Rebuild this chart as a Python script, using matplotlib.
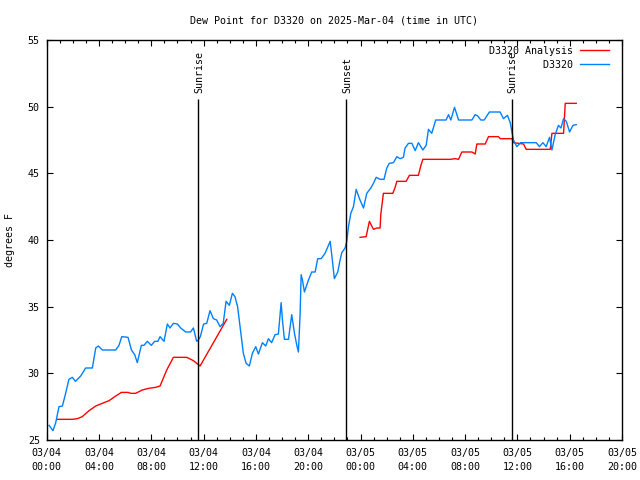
import numpy as np
import matplotlib
matplotlib.use("Agg")
import matplotlib.pyplot as plt
import matplotlib.dates as mdates
from datetime import datetime, timedelta

plt.rcParams["font.family"] = ["DejaVu Sans Mono"]
plt.rcParams["font.size"] = 7.2

# hours since 2025-03-04 00:00 UTC
obs_hours = [0.18, 0.48, 0.69, 0.94, 1.2, 1.45, 1.7, 1.96, 2.2, 2.6, 2.98, 3.49, 3.75, 3.95,
             4.26, 5.28, 5.53, 5.74, 6.22, 6.48, 6.73, 6.93, 7.24, 7.44, 7.7, 8.0, 8.26, 8.5,
             8.67, 8.97, 9.23, 9.43, 9.69, 10.0, 10.25, 10.63, 11.0, 11.22, 11.47, 11.6, 11.75,
             12.0, 12.24, 12.49, 12.75, 13.0, 13.26, 13.5, 13.72, 13.97, 14.2, 14.4, 14.6,
             14.79, 14.92, 15.04, 15.25, 15.5, 15.73, 15.99, 16.19, 16.5, 16.75, 16.96, 17.2,
             17.47, 17.72, 17.93, 18.03, 18.18, 18.49, 18.74, 18.95, 19.13, 19.25, 19.38,
             19.46, 19.56, 19.71, 20.02, 20.27, 20.53, 20.73, 20.99, 21.29, 21.68, 21.8, 22.0,
             22.26, 22.44, 22.57, 22.82, 22.95, 23.08, 23.26, 23.46, 23.67, 23.92, 24.23,
             24.48, 24.79, 24.99, 25.2, 25.5, 25.8, 26.01, 26.2, 26.52, 26.78, 27.03, 27.28,
             27.41, 27.67, 27.93, 28.18, 28.43, 28.77, 29.02, 29.2, 29.45, 29.75, 30.55,
             30.73, 30.91, 31.19, 31.5, 32.52, 32.77, 32.97, 33.2, 33.46, 33.86, 34.68, 34.93,
             35.24, 35.45, 35.58, 35.7, 35.96, 36.25, 37.44, 37.69, 37.95, 38.2, 38.46, 38.64,
             38.89, 39.14, 39.33, 39.53, 39.74, 39.99, 40.25, 40.5]
obs_dewpt = [26.1, 25.7, 26.3, 27.5, 27.55, 28.5, 29.55, 29.7, 29.4, 29.8, 30.4, 30.4, 31.9, 32.05,
             31.75, 31.75, 32.1, 32.75, 32.7, 31.75, 31.4, 30.8, 32.1, 32.1, 32.4, 32.1, 32.4, 32.4,
             32.75, 32.4, 33.7, 33.4, 33.75, 33.7, 33.4, 33.1, 33.1, 33.4, 32.4, 32.5, 32.75,
             33.7, 33.75, 34.7, 34.1, 34.0, 33.5, 33.75, 35.4, 35.1, 36.0, 35.75, 35.0,
             33.5, 32.5, 31.5, 30.75, 30.55, 31.5, 32.0, 31.45, 32.3, 32.05, 32.6, 32.3,
             32.9, 32.95, 35.3, 34.0, 32.55, 32.55, 34.4, 33.0, 32.1, 31.6, 34.4,
             37.4, 37.0, 36.1, 37.0, 37.6, 37.6, 38.6, 38.6, 39.0, 39.9, 38.9, 37.1,
             37.6, 38.5, 39.05, 39.4, 39.9, 41.0, 42.0, 42.5, 43.8, 43.1, 42.4,
             43.5, 43.9, 44.25, 44.7, 44.55, 44.55, 45.4, 45.75, 45.8, 46.25, 46.1, 46.2,
             46.9, 47.25, 47.25, 46.7, 47.3, 46.75, 47.1, 48.3, 48.0, 49.0, 49.0,
             49.4, 49.0, 49.95, 49.0, 49.0, 49.4, 49.3, 49.0, 49.0, 49.6, 49.6, 49.1,
             49.35, 48.8, 48.1, 47.5, 47.0, 47.3, 47.3, 47.0, 47.3, 47.0, 47.7, 46.75,
             47.9, 48.6, 48.4, 49.1, 48.9, 48.1, 48.6, 48.65]

ana_hours = [0.77, 1.96, 2.34, 2.72, 3.24, 3.75, 4.25, 4.77, 5.2, 5.71, 6.22, 6.43, 6.8, 7.31,
             7.83, 8.34, 8.67, 9.18, 9.69, 10.71, 11.22, 11.73, 12.75, 13.77, 18.0,
             23.97, 24.43, 24.68, 24.99, 25.25, 25.5, 25.55, 25.75, 26.47, 26.65, 26.78,
             27.49, 27.74, 28.43, 28.62, 28.77, 30.86, 31.24, 31.5, 31.75, 32.52, 32.77,
             32.9, 33.54, 33.79, 34.55, 34.68, 35.58, 35.7, 36.47, 36.67, 38.51, 38.64,
             39.53, 39.66, 40.5]
ana_dewpt = [26.55, 26.55, 26.6, 26.75, 27.2, 27.55, 27.75, 27.95, 28.25, 28.57, 28.57, 28.5, 28.5, 28.75,
             28.88, 28.95, 29.05, 30.25, 31.2, 31.2, 30.95, 30.55, 32.3, 34.05, np.nan,
             40.2, 40.25, 41.4, 40.8, 40.9, 40.9, 41.9, 43.5, 43.5, 43.95, 44.4,
             44.4, 44.85, 44.85, 45.6, 46.05, 46.05, 46.1, 46.05, 46.6, 46.6, 46.45,
             47.2, 47.2, 47.75, 47.75, 47.6, 47.6, 47.3, 47.2, 46.8, 46.8, 48.0,
             48.0, 50.25, 50.25]

sun_hours = [11.58, 22.92, 35.57]
sun_labels = ["Sunrise", "Sunset", "Sunrise"]

start = datetime(2025, 3, 4)
t0 = mdates.date2num(start)
obs_t = t0 + np.array(obs_hours) / 24
ana_t = t0 + np.array(ana_hours) / 24
sun_t = t0 + np.array(sun_hours) / 24

tick_hours = list(range(0, 45, 4))
tick_t = [t0 + h / 24 for h in tick_hours]
tick_labels = [(start + timedelta(hours=h)).strftime("%m/%d\n%H:%M") for h in tick_hours]

fig = plt.figure(figsize=(6.4, 4.8), dpi=100)
ax = fig.add_axes([46.7 / 640, 40 / 480, 575.3 / 640, 400 / 480])

ax.plot(ana_t, ana_dewpt, color="#ff0000", lw=1, label="D3320 Analysis")
ax.plot(obs_t, obs_dewpt, color="#0080ff", lw=1, label="         D3320")

ax.vlines(sun_t, 25, 50.57, color="black", lw=1)
for t, lab in zip(sun_t, sun_labels):
    ax.text(t + 0.003, 51.0, lab, rotation=90, ha="center", va="bottom")

ax.set_xlim(t0, t0 + 44 / 24)
ax.set_ylim(25, 55)
ax.set_xticks(tick_t, tick_labels, linespacing=1.45)
ax.xaxis.set_minor_locator(mdates.HourLocator())
ax.set_yticks(np.arange(25, 56, 5))
ax.tick_params(which="both", direction="in", top=True, right=True)
ax.tick_params(which="major", length=4.5, width=0.8)
ax.tick_params(which="minor", length=2.5, width=0.8)
ax.tick_params(axis="x", pad=6)
ax.tick_params(axis="y", pad=5)
for s in ax.spines.values():
    s.set_linewidth(1)

ax.legend(loc="upper right", bbox_to_anchor=(0.978, 0.985), frameon=False,
          markerfirst=False, borderpad=0, borderaxespad=0, handlelength=2.9,
          handletextpad=0.75, labelspacing=0.4)

fig.text(334 / 640, 1 - 20.5 / 480, "Dew Point for D3320 on 2025-Mar-04 (time in UTC)",
         ha="center", va="center")
fig.text(10 / 640, 0.5, "degrees F", rotation=90, ha="center", va="center")

fig.savefig("out.png", dpi=100)
